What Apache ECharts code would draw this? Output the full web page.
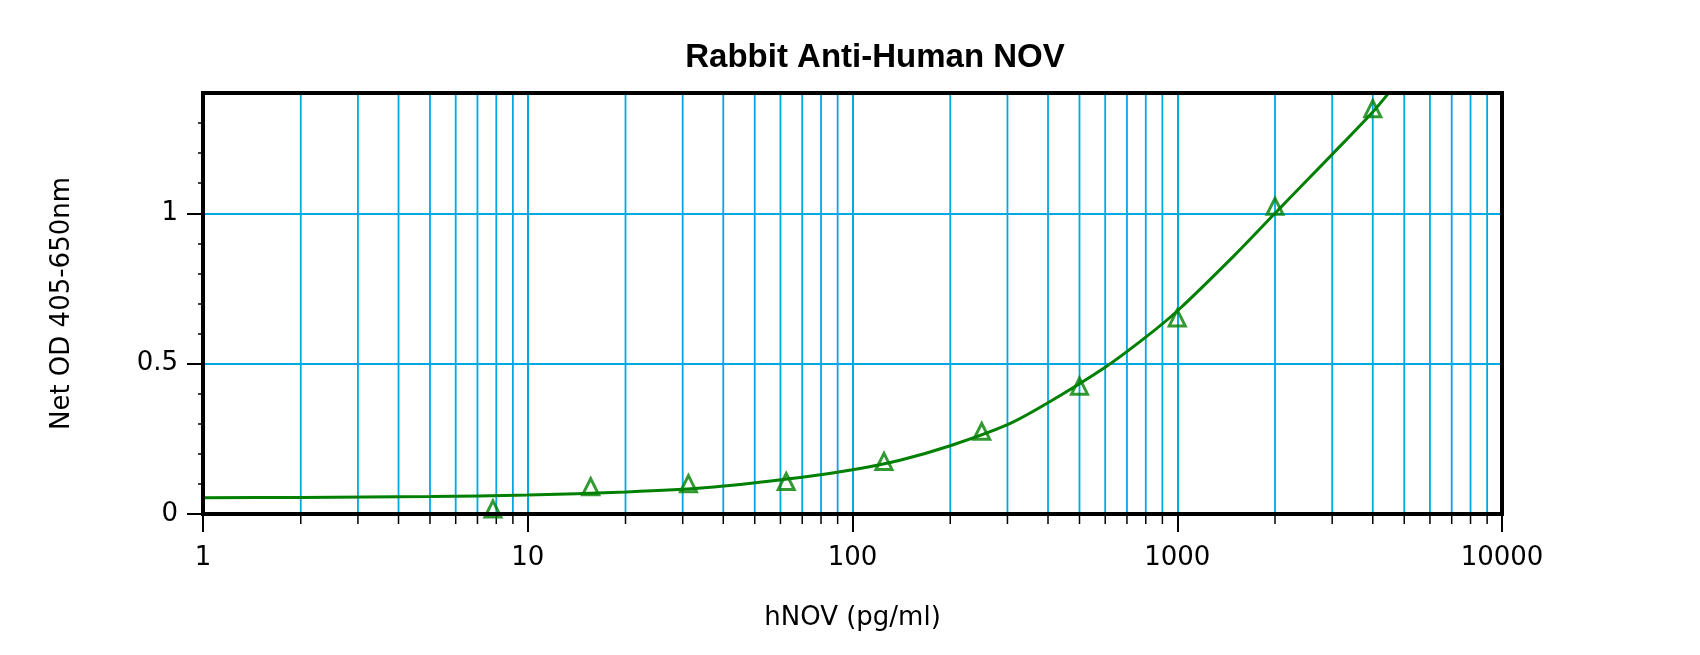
<!DOCTYPE html>
<html>
<head>
<meta charset="utf-8">
<title>Rabbit Anti-Human NOV</title>
<script src="https://cdn.jsdelivr.net/npm/echarts@6/dist/echarts.min.js"></script>
<style>
  html, body { margin: 0; padding: 0; background: #fff; }
  #main { width: 1700px; height: 655px; }
</style>
</head>
<body>
<div id="main"></div>
<script>
// standard points (pg/ml) and measured OD
var concentrations = [7.8125, 15.625, 31.25, 62.5, 125, 250, 500, 1000, 2000, 4000];
var odValues = [0.017, 0.091, 0.101, 0.108, 0.175, 0.275, 0.425, 0.652, 1.023, 1.348];

// fitted curve
var curveX = [1, 2, 5, 10, 20, 35, 70, 100, 140, 200, 300, 400, 600, 800, 1000, 1500, 2000, 3000, 4000, 4500];
var curveY = [0.054, 0.055, 0.058, 0.063, 0.073, 0.087, 0.122, 0.147, 0.179, 0.227, 0.297, 0.37, 0.488, 0.588, 0.675, 0.86, 1.0, 1.196, 1.337, 1.403];

var xTicks = [1, 10, 100, 1000, 10000];
var yTicks = [0, 0.5, 1];

var gridBlue = '#00a8e4';
var green = '#008000';
var font = "'DejaVu Sans', sans-serif";
var titleFont = "'Liberation Sans', Arial, sans-serif";

// minor log grid lines 2..9 of each decade
var minorX = [];
for (var d = 1; d < 10000; d *= 10) {
  for (var k = 2; k <= 9; k++) minorX.push([k * d, 0]);
}

var chart = echarts.init(document.getElementById('main'));
chart.setOption({
  animation: false,
  title: {
    text: 'Rabbit Anti-Human NOV',
    left: 870,
    top: 36,
    textAlign: 'center',
    textStyle: { fontFamily: titleFont, fontSize: 33, fontWeight: 'bold', color: '#000' }
  },
  grid: {
    left: 203, right: 198, top: 93, bottom: 141,
    show: true, z: 5,
    borderColor: '#000', borderWidth: 4,
    backgroundColor: 'transparent'
  },
  xAxis: {
    type: 'log',
    logBase: 10,
    min: 1,
    max: 10000,
    name: 'hNOV (pg/ml)',
    nameLocation: 'middle',
    nameGap: 91,
    nameTextStyle: { fontFamily: font, fontSize: 26, color: '#000' },
    axisLine: { show: false },
    axisTick: { show: true, customValues: xTicks, length: 18, lineStyle: { color: '#000', width: 2 } },
    axisLabel: {
      customValues: xTicks, margin: 31,
      fontFamily: font, fontSize: 26, color: '#000',
      formatter: function (v) { return String(v); }
    },
    splitLine: { show: true, lineStyle: { color: gridBlue, width: 2 } }
  },
  yAxis: {
    type: 'value',
    min: 0,
    max: 1.4,
    interval: 0.5,
    name: 'Net OD 405-650nm',
    nameLocation: 'middle',
    nameGap: 128,
    nameTextStyle: { fontFamily: font, fontSize: 26, color: '#000' },
    axisLine: { show: false },
    axisTick: { show: true, customValues: yTicks, length: 16, lineStyle: { color: '#000', width: 2 } },
    minorTick: { show: true, splitNumber: 5, length: 5, lineStyle: { color: '#000', width: 1.5 } },
    axisLabel: {
      customValues: yTicks, margin: 25, padding: [7, 0, 0, 0],
      fontFamily: font, fontSize: 26, color: '#000'
    },
    splitLine: { show: true, lineStyle: { color: gridBlue, width: 2 } }
  },
  series: [
    {
      name: 'minor grid',
      type: 'custom',
      silent: true,
      clip: false,
      z: 1,
      data: minorX,
      renderItem: function (params, api) {
        var p = api.coord([api.value(0), 0]);
        var top = params.coordSys.y + 2;
        var bottom = params.coordSys.y + params.coordSys.height;
        return {
          type: 'group',
          children: [
            { type: 'line', shape: { x1: p[0], y1: top, x2: p[0], y2: bottom - 2 },
              style: { stroke: gridBlue, lineWidth: 1.8 } },
            { type: 'line', shape: { x1: p[0], y1: bottom + 2, x2: p[0], y2: bottom + 10 },
              style: { stroke: '#000', lineWidth: 1.5 } }
          ]
        };
      }
    },
    {
      name: 'fit',
      type: 'line',
      smooth: 0.3,
      symbol: 'none',
      z: 3,
      lineStyle: { color: green, width: 3 },
      data: curveX.map(function (x, i) { return [x, curveY[i]]; })
    },
    {
      name: 'standards',
      type: 'scatter',
      symbol: 'triangle',
      symbolSize: 16,
      z: 4,
      itemStyle: { color: 'rgba(0,0,0,0)', borderColor: green, borderWidth: 3 },
      data: concentrations.map(function (x, i) { return [x, odValues[i]]; })
    }
  ]
});
</script>
</body>
</html>
